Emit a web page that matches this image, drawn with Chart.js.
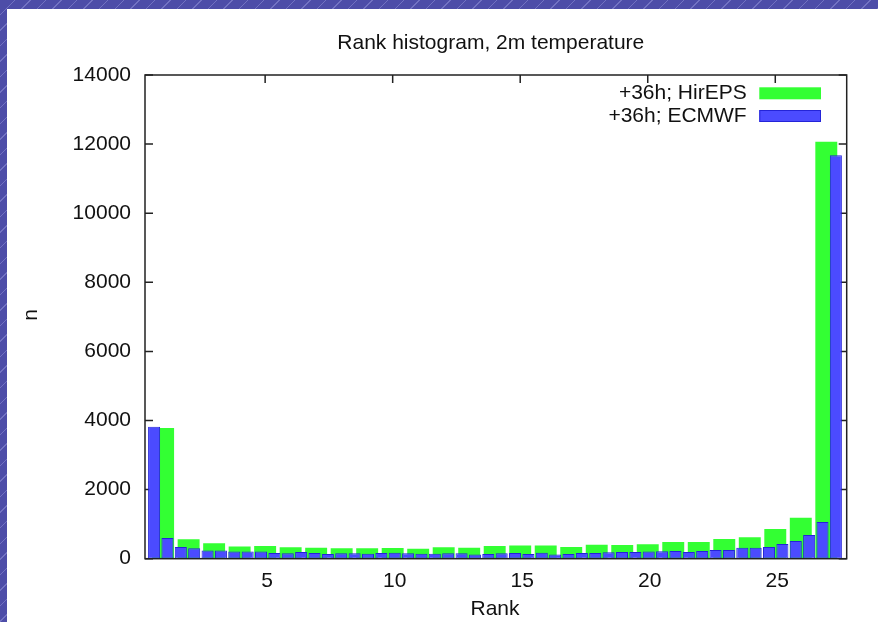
<!DOCTYPE html>
<html><head><meta charset="utf-8">
<script src="https://cdn.jsdelivr.net/npm/chart.js@4.4.1/dist/chart.umd.min.js"></script>
<style>
html,body{margin:0;padding:0;width:878px;height:622px;overflow:hidden;}
body{background-color:#4d4da8;background-image:repeating-linear-gradient(135deg, rgba(255,255,255,0) 0px, rgba(255,255,255,0) 10px, rgba(200,200,255,0.3) 10px, rgba(200,200,255,0.3) 11px);}
#wrap{position:absolute;left:7px;top:9px;width:871px;height:613px;background:#fff;}
canvas{display:block;}
</style></head><body>
<div id="wrap"><canvas id="c" width="871" height="613"></canvas></div>
<script>
const titleText = 'Rank histogram, 2m temperature';
const xTitle = 'Rank';
const yTitle = 'n';
const hirLabel = '+36h; HirEPS';
const ecLabel = '+36h; ECMWF';

const hirRanks = [1,2,3,4,5,6,7,8,9,10,11,12,13,14,15,16,17,18,19,20,21,22,23,24,25,26,27];
const hirCounts = [3780,560,450,350,370,330,320,300,300,310,290,330,320,370,380,385,340,405,395,415,485,480,570,620,860,1185,12070];

const ecRanks = [1,2,3,4,5,6,7,8,9,10,11,12,13,14,15,16,17,18,19,20,21,22,23,24,25,26,
                 27,28,29,30,31,32,33,34,35,36,37,38,39,40,41,42,43,44,45,46,47,48,49,50,51,52];
const ecCounts = [3820,600,340,300,240,240,205,205,205,165,155,195,165,135,155,155,145,165,175,155,145,145,155,155,125,135,
                  155,165,135,175,125,135,165,165,185,195,195,205,215,220,195,220,250,250,320,320,340,425,510,685,1060,11680];

const xTickValues = [5,10,15,20,25];
const yTickValues = [0,2000,4000,6000,8000,10000,12000,14000];

const FONT = "'Liberation Sans', Arial, Helvetica, sans-serif";
const FS = 21;
const TXT = '#111111';
const AXIS = '#222222';
const GREEN = '#33ff33';
const BLUE = '#4b4bff';
const BLUE_EDGE = '#2424d8';

const framePlugin = {
  id: 'frame',
  beforeDatasetsDraw(chart) {
    const {ctx, chartArea: a, scales} = chart;
    ctx.save();
    ctx.strokeStyle = AXIS;
    ctx.lineWidth = 1.5;
    const L = 8;
    ctx.beginPath();
    yTickValues.forEach(v => {
      const y = scales.y.getPixelForValue(v);
      ctx.moveTo(a.left, y); ctx.lineTo(a.left + L, y);
      ctx.moveTo(a.right, y); ctx.lineTo(a.right - L, y);
    });
    xTickValues.forEach(v => {
      const x = scales.x.getPixelForValue(v);
      ctx.moveTo(x, a.bottom); ctx.lineTo(x, a.bottom - L);
      ctx.moveTo(x, a.top); ctx.lineTo(x, a.top + L);
    });
    ctx.stroke();
    ctx.restore();
  },
  afterDatasetsDraw(chart) {
    const {ctx, chartArea: a} = chart;
    ctx.save();
    ctx.strokeStyle = AXIS;
    ctx.lineWidth = 1.5;
    ctx.strokeRect(a.left, a.top, a.right - a.left, a.bottom - a.top);
    ctx.restore();
  },
  afterDraw(chart) {
    const {ctx, chartArea: a} = chart;
    ctx.save();
    ctx.fillStyle = TXT;
    ctx.font = FS + 'px ' + FONT;
    ctx.textAlign = 'center';
    ctx.textBaseline = 'middle';
    ctx.fillText(titleText, 483.8, 34.5);
    ctx.fillText(xTitle, 488, 600);
    ctx.save();
    ctx.translate(24, (a.top + a.bottom) / 2 - 2);
    ctx.rotate(-Math.PI / 2);
    ctx.fillText(yTitle, 0, 0);
    ctx.restore();
    const items = [
      {label: hirLabel, fill: GREEN, edge: null, y: 84.3},
      {label: ecLabel, fill: BLUE, edge: BLUE_EDGE, y: 107}
    ];
    ctx.textAlign = 'right';
    items.forEach(it => {
      ctx.fillStyle = TXT;
      ctx.fillText(it.label, 739.7, it.y);
      ctx.fillStyle = it.fill;
      ctx.fillRect(752.3, it.y - 6, 61.7, 12);
      if (it.edge) {
        ctx.strokeStyle = it.edge;
        ctx.lineWidth = 1;
        ctx.strokeRect(752.8, it.y - 5.5, 60.7, 11);
      }
    });
    ctx.restore();
  }
};

const ctx = document.getElementById('c').getContext('2d');
new Chart(ctx, {
  type: 'bar',
  data: {
    datasets: [
      {
        label: hirLabel,
        data: hirRanks.map((r, i) => ({x: r, y: hirCounts[i]})),
        xAxisID: 'x', yAxisID: 'y',
        backgroundColor: GREEN,
        borderWidth: 0,
        barPercentage: 0.86,
        categoryPercentage: 1,
        grouped: false,
        order: 2
      },
      {
        label: ecLabel,
        data: ecRanks.map((r, i) => ({x: r, y: ecCounts[i]})),
        xAxisID: 'x2', yAxisID: 'y',
        backgroundColor: BLUE,
        borderColor: BLUE_EDGE,
        borderWidth: 1,
        borderSkipped: false,
        barPercentage: 0.9,
        categoryPercentage: 1,
        grouped: false,
        order: 1
      }
    ]
  },
  options: {
    responsive: false,
    animation: false,
    devicePixelRatio: 1,
    layout: {padding: {left: 0, right: 31.3, top: 66, bottom: 0}},
    plugins: {legend: {display: false}, title: {display: false}, tooltip: {enabled: false}},
    scales: {
      x: {
        type: 'linear', position: 'bottom', min: 0.29, max: 27.8, offset: false, bounds: 'ticks',
        afterBuildTicks: s => { s.ticks = xTickValues.map(v => ({value: v})); },
        afterFit: s => { s.height = 63.3; },
        grid: {display: false, drawTicks: false, offset: false},
        border: {display: false},
        ticks: {font: {family: FONT, size: FS}, color: TXT, padding: 10, labelOffset: 2, maxRotation: 0, autoSkip: false,
                callback: v => String(v)}
      },
      x2: {type: 'linear', position: 'bottom', display: false, min: 0.32, max: 52.81, offset: false, grid: {offset: false}},
      y: {
        type: 'linear', position: 'left', min: 0, max: 14000,
        afterBuildTicks: s => { s.ticks = yTickValues.map(v => ({value: v})); },
        afterFit: s => { s.width = 138; },
        grid: {display: false, drawTicks: false},
        border: {display: false},
        ticks: {font: {family: FONT, size: FS}, color: TXT, padding: 14, callback: v => String(v)}
      }
    }
  },
  plugins: [framePlugin]
});
</script>
</body></html>
